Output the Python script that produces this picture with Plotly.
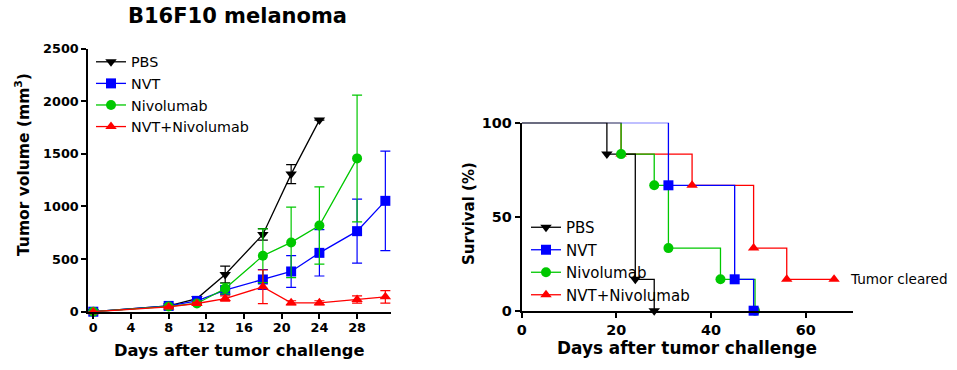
import plotly.graph_objects as go

# ---------------- data: tumor growth ----------------
days = [0, 8, 11, 14, 18, 21, 24, 28, 31]
day_ticks = [0, 4, 8, 12, 16, 20, 24, 28]
vol_ticks = [0, 500, 1000, 1500, 2000, 2500]

pbs_vol = [0, 55, 125, 353, 734, 1307, 1820]
pbs_err = [0, 5, 15, 80, 55, 90, 0]
nvt_vol = [0, 55, 103, 204, 306, 382, 559, 765, 1053]
nvt_err = [0, 5, 15, 40, 95, 150, 220, 304, 472]
niv_vol = [0, 50, 78, 220, 531, 658, 819, 1456]
niv_err = [0, 5, 10, 50, 255, 335, 367, 602]
combo_vol = [0, 45, 78, 125, 236, 84, 84, 116, 141]
combo_err = [0, 5, 10, 25, 160, 20, 20, 35, 60]
treatment_days = [8, 11, 14, 18, 21, 24]

# ---------------- data: survival ----------------
surv_ticks_x = [0, 20, 40, 60]
surv_ticks_y = [0, 50, 100]
pbs_sd = [0, 18, 24, 28]
pbs_sv = [100, 83.3, 16.7, 0]
nvt_sd = [0, 31, 45, 49]
nvt_sv = [100, 66.7, 16.7, 0]
niv_sd = [0, 21, 28, 31, 42, 49.3]
niv_sv = [100, 83.3, 66.7, 33.3, 16.7, 0]
combo_sd = [0, 21, 36, 49, 56, 66]
combo_sv = [100, 83.3, 66.7, 33.3, 16.7, 16.7]

names = ["PBS", "NVT", "Nivolumab", "NVT+Nivolumab"]
colors = ["#000000", "#0000ff", "#00c800", "#ff0000"]
symbols = ["triangle-down", "square", "circle", "triangle-up"]
msizes = [10, 10, 10, 10]

W, H = 957, 370
FONT = "DejaVu Sans"

def px(x):
    return x / W

def py(y):
    return 1 - y / H

fig = go.Figure()

# ---------- left panel ----------
growth = [(pbs_vol, pbs_err), (nvt_vol, nvt_err), (niv_vol, niv_err), (combo_vol, combo_err)]
for i, (v, e) in enumerate(growth):
    fig.add_trace(go.Scatter(
        x=days[:len(v)], y=v, name=names[i], mode="lines+markers",
        line=dict(color=colors[i], width=1.3),
        marker=dict(symbol=symbols[i], size=msizes[i], color=colors[i]),
        error_y=dict(type="data", array=e, visible=True, color=colors[i],
                     thickness=1.2, width=5),
        cliponaxis=False, xaxis="x", yaxis="y", legend="legend"))

# treatment dots below the axis
fig.add_trace(go.Scatter(
    x=treatment_days, y=[-0.1 * vol_ticks[-1]] * len(treatment_days),
    mode="markers", marker=dict(size=6, color="black"),
    cliponaxis=False, showlegend=False, xaxis="x", yaxis="y", hoverinfo="skip"))

# ---------- right panel ----------
surv = [(pbs_sd, pbs_sv), (nvt_sd, nvt_sv), (niv_sd, niv_sv), (combo_sd, combo_sv)]
for i in [3, 2, 1, 0]:
    sd, sv = surv[i]
    fig.add_trace(go.Scatter(
        x=sd, y=sv, mode="lines", line=dict(color=colors[i], width=1.3, shape="hv"),
        showlegend=False, xaxis="x2", yaxis="y2", cliponaxis=False))
for i in [3, 2, 1, 0]:
    sd, sv = surv[i]
    fig.add_trace(go.Scatter(
        x=sd[1:], y=sv[1:], mode="markers",
        marker=dict(symbol=symbols[i], size=msizes[i], color=colors[i]),
        showlegend=False, xaxis="x2", yaxis="y2", cliponaxis=False))
for i in range(4):
    fig.add_trace(go.Scatter(
        x=[None], y=[None], name=names[i], mode="lines+markers",
        line=dict(color=colors[i], width=1.3),
        marker=dict(symbol=symbols[i], size=msizes[i], color=colors[i]),
        xaxis="x2", yaxis="y2", legend="legend2"))

axis_common = dict(showline=True, linecolor="black", linewidth=2, ticks="outside",
                   ticklen=5, tickwidth=2, tickcolor="black", showgrid=False,
                   zeroline=False, fixedrange=True, automargin=False)

fig.update_layout(
    template="none",
    width=W, height=H, margin=dict(l=0, r=0, t=0, b=0, autoexpand=False),
    paper_bgcolor="white", plot_bgcolor="white",
    font=dict(family=FONT, color="black"),
    xaxis=dict(domain=[px(88.3), px(391)], range=[-0.53, 31.6], tickvals=day_ticks,
               tickfont=dict(size=12.8, weight="bold"), anchor="y",
               ticklabelstandoff=-2, **axis_common),
    yaxis=dict(domain=[py(311.7), py(48.5)], range=[0, 2500], tickvals=vol_ticks,
               tickfont=dict(size=12.8, weight="bold"), anchor="x", **axis_common),
    xaxis2=dict(domain=[px(521.7), px(853)], range=[0, 70], tickvals=surv_ticks_x,
                tickfont=dict(size=14.4, weight="bold"), anchor="y2", **axis_common),
    yaxis2=dict(domain=[py(310.7), py(122.7)], range=[0, 100], tickvals=surv_ticks_y,
                tickfont=dict(size=14.4, weight="bold"), anchor="x2", **axis_common),
    legend=dict(x=px(91), y=py(46), xanchor="left", yanchor="top",
                font=dict(size=14.3, family=FONT), bgcolor="rgba(0,0,0,0)",
                borderwidth=0, tracegroupgap=0),
    legend2=dict(x=px(526), y=py(211), xanchor="left", yanchor="top",
                 font=dict(size=15, family=FONT), bgcolor="rgba(0,0,0,0)",
                 borderwidth=0, tracegroupgap=0),
    annotations=[
        dict(text="B16F10 melanoma", x=px(237), y=py(15.5), xref="paper", yref="paper",
             showarrow=False, font=dict(size=21, weight="bold"), xanchor="center", yanchor="middle"),
        dict(text="Days after tumor challenge", x=px(239), y=py(350), xref="paper", yref="paper",
             showarrow=False, font=dict(size=16.3, weight="bold"), xanchor="center", yanchor="middle"),
        dict(text="Tumor volume (mm<sup>3</sup>)", x=px(22), y=py(165), xref="paper", yref="paper",
             showarrow=False, textangle=-90, font=dict(size=15.5, weight="bold"),
             xanchor="center", yanchor="middle"),
        dict(text="Days after tumor challenge", x=px(687), y=py(348), xref="paper", yref="paper",
             showarrow=False, font=dict(size=16.9, weight="bold"), xanchor="center", yanchor="middle"),
        dict(text="Survival (%)", x=px(469), y=py(214), xref="paper", yref="paper",
             showarrow=False, textangle=-90, font=dict(size=15, weight="bold"),
             xanchor="center", yanchor="middle"),
        dict(text="Tumor cleared", x=px(848), y=py(279), xref="paper", yref="paper",
             showarrow=False, font=dict(size=13.6), xanchor="left", yanchor="middle"),
    ],
)

# remove the default 8px page margin so the figure sits at the window's top-left corner
fig.write_html("out.html",
               config={"displayModeBar": False, "staticPlot": True},
               post_script="document.body.style.margin='0';document.body.style.overflow='hidden';")
